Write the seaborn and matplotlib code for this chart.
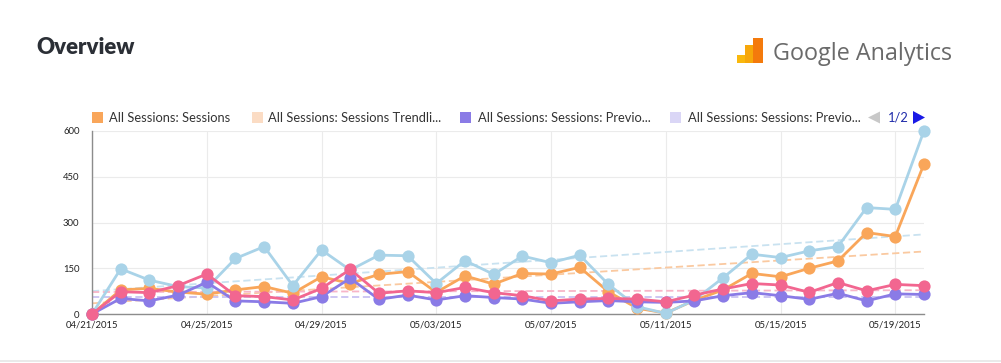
import matplotlib
matplotlib.use("Agg")
import matplotlib.pyplot as plt
from matplotlib.patches import Rectangle, Polygon
from matplotlib.lines import Line2D
import numpy as np
import pandas as pd
import seaborn as sns

# ---------------- data ----------------
dates = pd.date_range("2015-04-21", "2015-05-20", freq="D")
tick_labels = ["04/21/2015", "04/25/2015", "04/29/2015", "05/03/2015",
               "05/07/2015", "05/11/2015", "05/15/2015", "05/19/2015"]

sessions = [0, 79, 84, 72, 65, 79, 90, 68, 122, 100, 130, 139, 71, 125, 98,
            133, 131, 153, 73, 19, 3, 45, 79, 133, 122, 150, 174, 267, 254, 492]
sessions_blue = [0, 148, 111, 90, 85, 182, 221, 93, 210, 144, 193, 191, 100, 175, 130,
                 190, 168, 193, 97, 24, 2, 46, 119, 196, 185, 207, 221, 349, 343, 601]
previous = [0, 51, 43, 62, 104, 43, 40, 35, 57, 117, 48, 62, 46, 60, 54,
            49, 35, 40, 44, 40, 38, 43, 60, 70, 60, 48, 68, 43, 66, 64]
previous_pink = [0, 73, 70, 93, 131, 60, 57, 46, 84, 146, 68, 76, 70, 87, 70,
                 60, 43, 49, 51, 49, 40, 62, 82, 100, 95, 71, 103, 76, 97, 93]

# trend lines: values read at first and last day
trend_sessions = [35, 205]
trend_blue = [75, 261]
trend_previous = [55, 55]
trend_pink = [72, 78]

legend_labels = ["All Sessions: Sessions", "All Sessions: Sessions Trendli...",
                 "All Sessions: Sessions: Previo...", "All Sessions: Sessions: Previo..."]

C_ORANGE = "#F9A65A"
C_BLUE = "#A9D3E8"
C_PURPLE = "#8A7BE6"
C_PINK = "#F26690"
C_PEACH = "#FBDCC4"
C_LAV = "#DAD6F6"

# ---------------- figure ----------------
sns.set_style("white")
plt.rcParams["font.family"] = ["Lato", "DejaVu Sans"]

W, H = 1001, 363
fig = plt.figure(figsize=(W / 100, H / 100), dpi=100)

def fx(px):
    return px / W

def fy(py):
    return 1 - py / H

ax_l, ax_r, ax_t, ax_b = 92, 924, 131, 314
ax = fig.add_axes([fx(ax_l), fy(ax_b), fx(ax_r - ax_l), (ax_b - ax_t) / H])

x = np.arange(len(dates))
df = pd.DataFrame({"x": x, "blue": sessions_blue, "orange": sessions,
                   "purple": previous, "pink": previous_pink})

# trend lines
trend_df = pd.DataFrame({
    "x": [0, len(x) - 1] * 4,
    "y": trend_blue + trend_sessions + trend_previous + trend_pink,
    "s": ["b", "b", "o", "o", "p", "p", "k", "k"],
})
for key, col in [("b", "#C9E2F0"), ("o", "#FAC9A0"), ("p", "#C9C2F2"), ("k", "#F7B5C8")]:
    sns.lineplot(data=trend_df[trend_df.s == key], x="x", y="y", ax=ax, color=col,
                 linewidth=1.3, linestyle=(0, (4, 2)), zorder=2)

for key, col in [("orange", C_ORANGE), ("blue", C_BLUE), ("purple", C_PURPLE), ("pink", C_PINK)]:
    sns.lineplot(data=df, x="x", y=key, ax=ax, color=col, linewidth=2.0,
                 marker="o", markersize=8.8, markeredgewidth=0, zorder=3)

ax.set_xlim(0, len(x) - 1)
ax.set_ylim(0, 600)
ax.set_xlabel("")
ax.set_ylabel("")
ax.set_yticks([0, 150, 300, 450, 600])
ax.set_yticklabels(["0", "150", "300", "450", "600"])
ax.set_xticks(np.arange(0, len(x), 4))
ax.set_xticklabels(tick_labels)
ax.tick_params(axis="both", length=0, labelsize=6.8, colors="#222222")
ax.tick_params(axis="y", pad=9)
ax.tick_params(axis="x", pad=5)
ax.grid(True, color="#EBEBEB", linewidth=0.8)
for s in ["top", "right"]:
    ax.spines[s].set_visible(False)
for s in ["left", "bottom"]:
    ax.spines[s].set_color("#8C8C8C")
    ax.spines[s].set_linewidth(1.0)
for c in ax.collections + ax.lines:
    c.set_clip_on(False)

# ---------------- legend ----------------
leg_sq = [92, 252, 460, 670]
leg_txt = [109, 268, 478, 688]
leg_col = [C_ORANGE, C_PEACH, C_PURPLE, C_LAV]
for sx, tx, col, lab in zip(leg_sq, leg_txt, leg_col, legend_labels):
    fig.patches.append(Rectangle((fx(sx), fy(123)), fx(11), 11 / H, transform=fig.transFigure,
                                 facecolor=col, edgecolor="none"))
    fig.text(fx(tx), fy(117.5), lab, fontsize=9.3, color="#333333", va="center", ha="left")
fig.patches.append(Polygon([(fx(868), fy(117.5)), (fx(880), fy(111.5)), (fx(880), fy(123.5))],
                           closed=True, transform=fig.transFigure, facecolor="#C8C8C8",
                           edgecolor="none"))
fig.text(fx(888), fy(117.5), "1/2", fontsize=9.3, color="#1F2BAA", va="center", ha="left")
fig.patches.append(Polygon([(fx(913), fy(111)), (fx(925), fy(117.5)), (fx(913), fy(124))],
                           closed=True, transform=fig.transFigure, facecolor="#1A1AE6",
                           edgecolor="none"))

# ---------------- header ----------------
fig.text(fx(36), fy(47), "Overview", fontsize=16, fontweight="heavy", color="#2B2F36",
         va="center", ha="left")
# Google Analytics logo
fig.patches.append(Rectangle((fx(737), fy(63)), fx(8), 8 / H, transform=fig.transFigure,
                             facecolor="#F9B80D", edgecolor="none"))
fig.patches.append(Rectangle((fx(745), fy(63)), fx(8), 18 / H, transform=fig.transFigure,
                             facecolor="#F7A70A", edgecolor="none"))
fig.patches.append(Rectangle((fx(753), fy(63)), fx(10), 25 / H, transform=fig.transFigure,
                             facecolor="#F47A0C", edgecolor="none"))
fig.text(fx(773), fy(60), "Google Analytics", fontsize=16.8, color="#6A6A6A",
         va="baseline", ha="left", family=["Open Sans", "DejaVu Sans"])

# bottom separator
fig.add_artist(Line2D([0, 1], [fy(361), fy(361)], transform=fig.transFigure,
                      color="#E6E6E6", linewidth=1.2))

fig.savefig("out.png", dpi=100, facecolor="white")
